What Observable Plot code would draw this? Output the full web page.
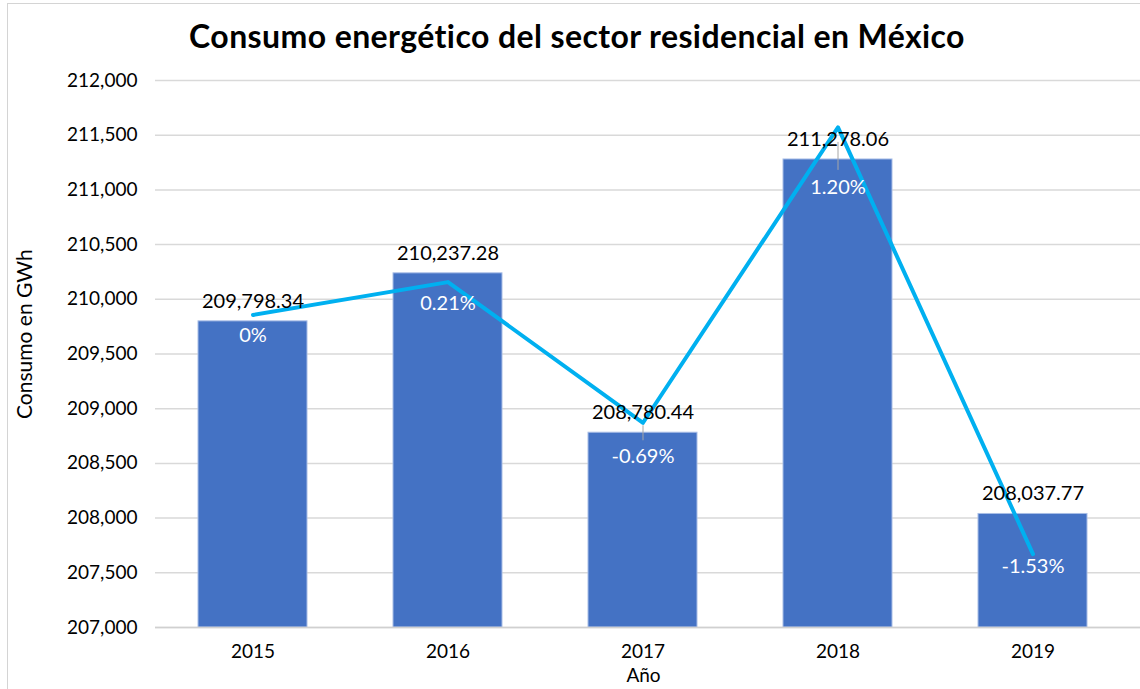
<!DOCTYPE html>
<html>
<head>
<meta charset="utf-8">
<script src="https://cdn.jsdelivr.net/npm/d3@7"></script>
<script src="https://cdn.jsdelivr.net/npm/@observablehq/plot@0.6"></script>
<style>
  html, body { margin: 0; padding: 0; background: #fff; }
  #wrap { position: relative; width: 1140px; height: 689px; overflow: hidden; font-family: "Lato", "DejaVu Sans", sans-serif; }
  #frame { position: absolute; left: 7px; top: 3px; width: 1200px; height: 800px; border-left: 1.5px solid #d4d4d4; border-top: 1.5px solid #d4d4d4; }
  #title { position: absolute; left: 0; top: 16px; width: 1154px; text-align: center; font-size: 32px; font-weight: bold; color: #000; letter-spacing: 0.4px; }
  #chart { position: absolute; left: 0; top: 62px; }
</style>
</head>
<body>
<div id="wrap">
  <div id="frame"></div>
  <div id="title">Consumo energético del sector residencial en México</div>
  <div id="chart"></div>
</div>
<script>
// ---- data ----
const years = ["2015", "2016", "2017", "2018", "2019"];
const consumo = [209798.34, 210237.28, 208780.44, 211278.06, 208037.77];
const variacion = [0, 0.21, -0.69, 1.20, -1.53];           // percent
const yTicks = [207000, 207500, 208000, 208500, 209000, 209500, 210000, 210500, 211000, 211500, 212000];
const yDomain = [207000, 212000];
const pctDomain = [-2, 1.5];  // hidden secondary axis (percent)
const yLabel = "Consumo en GWh";
const xLabel = "Año";

// secondary axis mapped onto primary scale
const pctToPrimary = p => yDomain[0] + (p - pctDomain[0]) * (yDomain[1] - yDomain[0]) / (pctDomain[1] - pctDomain[0]);

const rows = years.map((y, i) => ({
  year: y,
  value: consumo[i],
  pct: variacion[i],
  pctY: pctToPrimary(variacion[i])
}));

const fmtVal = d3.format(",.2f");
const fmtPct = p => (p === 0 ? "0" : p.toFixed(2)) + "%";

// per-label offsets (as in reference, some labels were moved; moved ones get leader lines)
const pctDy = {"2015": 21, "2016": 21, "2017": 34, "2018": 60, "2019": 13};
const leader = {"2017": [3, 18], "2018": [15, 43]};
const font = "Lato, 'DejaVu Sans', sans-serif";

const marks = [
  Plot.ruleY(yTicks, {stroke: "#d9d9d9", strokeWidth: 1.5, insetRight: -9}),
  Plot.barY(rows, {x: "year", y1: yDomain[0], y2: "value", fill: "#4472C4", stroke: "#a8bde6", strokeWidth: 1}),
  Plot.ruleY([yDomain[0]], {stroke: "#d0d0d0", strokeWidth: 1.5, insetRight: -9}),
  ...Object.keys(leader).map(yr => Plot.ruleX(rows.filter(d => d.year === yr), {x: "year", y1: "pctY", y2: "pctY", insetTop: leader[yr][0], insetBottom: -leader[yr][1], stroke: "#a6a6a6", strokeWidth: 1})),
  Plot.line(rows, {x: "year", y: "pctY", stroke: "#00B0F0", strokeWidth: 4}),
  Plot.text(rows, {x: "year", y: "value", text: d => fmtVal(d.value), dy: -20, fill: "#000", fontSize: 20, fontFamily: font}),
  ...years.map(yr => Plot.text(rows.filter(d => d.year === yr), {x: "year", y: "pctY", text: d => fmtPct(d.pct), dy: pctDy[yr], fill: "#fff", fontSize: 20, fontFamily: font})),
  Plot.axisY({ticks: yTicks, tickFormat: d3.format(","), tickSize: 0, tickPadding: 18, fontSize: 19, label: null, fontFamily: font}),
  Plot.axisX({tickSize: 0, tickPadding: 17, fontSize: 19, label: null, fontFamily: font}),
  Plot.text([yLabel], {frameAnchor: "left", rotate: -90, dx: -130, dy: 65, fontSize: 21, fill: "#000", fontFamily: font}),
  Plot.text([xLabel], {frameAnchor: "bottom", dy: 54, fontSize: 19, fill: "#000", fontFamily: font})
];

const chart = Plot.plot({
  width: 1140,
  height: 627,
  marginLeft: 155,
  marginRight: 9,
  marginTop: 18,
  marginBottom: 62,
  x: {domain: years, paddingInner: 0.44, paddingOuter: 0.22},
  y: {domain: yDomain},
  style: {background: "transparent", color: "#000", fontFamily: font, overflow: "visible"},
  marks
});
document.getElementById("chart").appendChild(chart);
</script>
</body>
</html>
